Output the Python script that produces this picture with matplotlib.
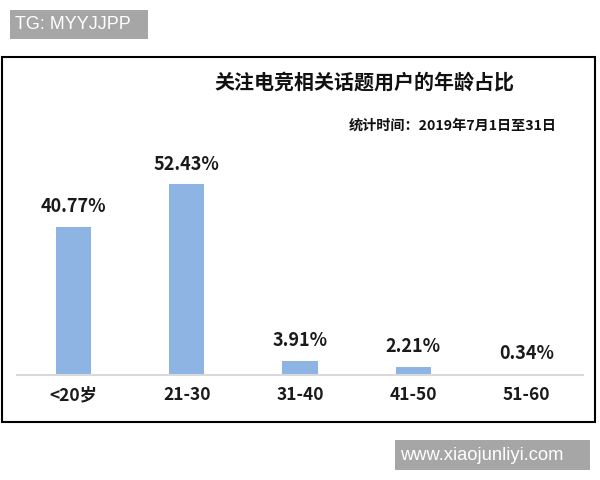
import matplotlib.pyplot as plt
from matplotlib.patches import Rectangle

plt.rcParams['font.family'] = ['Noto Sans CJK SC', 'DejaVu Sans']

# data
categories = ['<20岁', '21-30', '31-40', '41-50', '51-60']
shares = [40.77, 52.43, 3.91, 2.21, 0.34]
value_labels = ['40.77%', '52.43%', '3.91%', '2.21%', '0.34%']

title = '关注电竞相关话题用户的年龄占比'
subtitle = '统计时间：2019年7月1日至31日'
tag_text = 'TG: MYYJJPP'
site_text = 'www.xiaojunliyi.com'

W, H = 600, 480
fig = plt.figure(figsize=(W / 100, H / 100), dpi=100)

# figure coords from pixel coords (top-left origin)
def fx(px):
    return px / W

def fy(py):
    return 1 - py / H

# outer black frame
fig.patches.append(Rectangle((fx(2), fy(422)), fx(593), (422 - 57) / H,
                             transform=fig.transFigure, fill=False,
                             edgecolor='black', linewidth=1.5))

# grey watermark boxes
fig.patches.append(Rectangle((fx(10), fy(39)), fx(138), 29 / H,
                             transform=fig.transFigure, facecolor='#a6a6a6',
                             edgecolor='none'))
fig.text(fx(15), fy(24.5), tag_text, color='white', fontsize=13,
         family='Liberation Sans', va='center', ha='left')
fig.patches.append(Rectangle((fx(395), fy(470)), fx(195), 30 / H,
                             transform=fig.transFigure, facecolor='#a6a6a6',
                             edgecolor='none'))
fig.text(fx(400), fy(455), site_text, color='white', fontsize=13.2,
         family='Liberation Sans', va='center', ha='left')

# titles
fig.text(fx(364), fy(82), title, fontsize=14.4, fontweight='bold',
         ha='center', va='center', color='#111111')
fig.text(fx(557), fy(126), subtitle, fontsize=10.2, fontweight='bold',
         ha='right', va='center', color='#111111')

# bar axes
ax = fig.add_axes([fx(17), fy(375), 566 / W, (375 - 150) / H])
x = list(range(len(categories)))
ax.bar(x, shares, width=0.31, color='#8eb4e3')
ax.set_xlim(-0.5, 4.5)
ax.set_ylim(0, 61.8)

for xi, v, lab in zip(x, shares, value_labels):
    ax.annotate(lab, (xi, v), xytext=(0, 14.4), textcoords='offset points',
                ha='center', va='center', fontsize=13, fontweight='bold',
                color='#1a1a1a')

ax.set_xticks(x)
ax.set_xticklabels(categories, fontsize=12.5, fontweight='bold',
                   color='#1a1a1a')
ax.tick_params(axis='x', length=0, pad=8)
ax.set_yticks([])
for side in ['top', 'right', 'left']:
    ax.spines[side].set_visible(False)
ax.spines['bottom'].set_color('#d9d9d9')
ax.spines['bottom'].set_linewidth(1.5)
ax.patch.set_alpha(0)

fig.savefig('out.png', dpi=100)
